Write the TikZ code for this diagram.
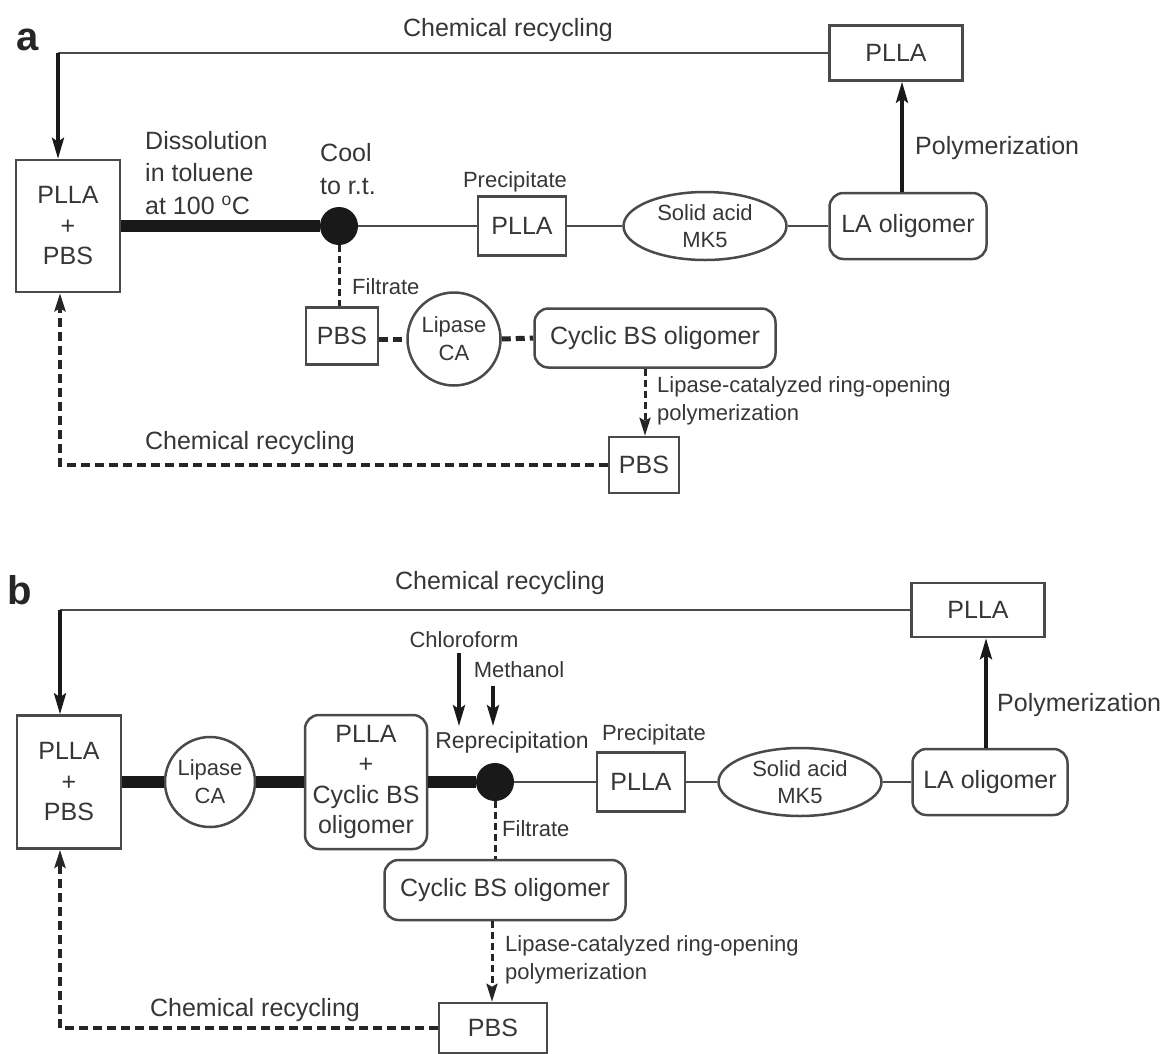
\documentclass[tikz,border=0pt]{standalone}
\usepackage{fontspec}
\setmainfont{Liberation Sans}
\usetikzlibrary{arrows.meta,shapes.geometric,calc}
\definecolor{ink}{HTML}{363636}
\definecolor{ln}{HTML}{4a4a4a}
\begin{document}
\begin{tikzpicture}[x=1pt,y=-1pt,
  every node/.style={text=ink},
  lab/.style={font=\fontsize{25}{32.5}\selectfont, align=center, inner sep=0},
  sm/.style={font=\fontsize{22}{28}\selectfont, align=center, inner sep=0},
  box/.style={draw=ln, line width=2.5, rectangle, inner sep=0, font=\fontsize{25}{30.5}\selectfont, align=center},
  rbox/.style={box, rounded corners=14},
  ell/.style={draw=ln, line width=2.5, ellipse, inner sep=0, minimum width=163, minimum height=68, font=\fontsize{22}{27}\selectfont, align=center},
  cir/.style={draw=ln, line width=2.5, circle, inner sep=0, font=\fontsize{22}{28}\selectfont, align=center},
  dot/.style={circle, fill=black!90, inner sep=0, minimum size=38},
  panel/.style={font=\bfseries\fontsize{40}{40}\selectfont, inner sep=0, text=black!85},
  thinl/.style={draw=ln, line width=2.8},
  thickl/.style={draw=black!90, line width=12},
  arr/.style={draw=black!90, line width=3.5, -{Stealth[length=21pt,width=12pt,inset=4pt]}},
  dsha/.style={draw=black!85, line width=3, dash pattern=on 7pt off 4pt},
  dshb/.style={draw=black!85, line width=5, dash pattern=on 9pt off 5pt},
  darr/.style={draw=black!85, line width=3, dash pattern=on 7pt off 4pt, -{Stealth[length=18pt,width=11pt,inset=3pt,sep=0pt]}},
  dret/.style={draw=black!85, line width=4, dash pattern=on 9pt off 5pt, -{Stealth[length=18pt,width=11pt,inset=3pt]}}
]
\useasboundingbox (0,0) rectangle (1168,1053);

% ---------------- panel a ----------------
\node[panel] (pa) at (28,40) {a};
\node[lab] (reca) at (508,30) {Chemical recycling};
\node[box, minimum width=133, minimum height=55] (pllaT) at (896,53) {PLLA};
\node[box, minimum width=104, minimum height=132] (ab) at (68,226) {PLLA\\+\\PBS};
\node[dot] (c1) at (339,226) {};
\node[lab, anchor=west, align=left] (diss) at (145,173) {Dissolution\\in toluene\\at 100 \textsuperscript{o}C};
\node[lab, anchor=west, align=left] (cool) at (320,169) {Cool\\to r.t.};
\node[box, minimum width=88, minimum height=59] (p1) at (522,226) {PLLA};
\node[sm] (prec1) at (515,182) {Precipitate};
\node[ell] (el1) at (705,226) {Solid acid\\MK5};
\node[rbox, minimum width=157, minimum height=66] (la1) at (908,226) {LA oligomer};
\node[lab, anchor=west] (poly1) at (915,148) {Polymerization};
\node[box, minimum width=72, minimum height=57] (pbs1) at (342,336) {PBS};
\node[sm, anchor=west] (filt1) at (352,287) {Filtrate};
\node[cir, minimum size=93] (lip1) at (454,339) {Lipase\\CA};
\node[rbox, minimum width=241, minimum height=59] (cyc1) at (655,338) {Cyclic BS oligomer};
\node[sm, anchor=west, align=left] (lcr1) at (657,401) {Lipase-catalyzed ring-opening\\polymerization};
\node[box, minimum width=70, minimum height=56] (pbs2) at (644,465) {PBS};
\node[lab] (reca2) at (250,443) {Chemical recycling};

\coordinate (ta) at (58,53);
\draw[thinl] (pllaT.west) -- (ta);
\draw[arr] (ta) -- (ta |- ab.north);
\draw[thickl] (ab.east) -- (c1.west);
\draw[thinl] (c1.east) -- (p1.west);
\draw[thinl] (p1.east) -- (el1.west);
\draw[thinl] (el1.east) -- (la1.west);
\coordinate (pxa) at (902,0);
\draw[arr] (la1.north -| pxa) -- (pllaT.south -| pxa);
\draw[dsha] (c1.south) -- (c1.south |- pbs1.north);
\draw[dshb] (pbs1.east |- lip1.west) -- (lip1.west);
\draw[dshb] (lip1.east) -- (cyc1.west);
\coordinate (dxa) at (645,0);
\draw[darr] (cyc1.south -| dxa) -- (pbs2.north -| dxa);
\coordinate (rxa) at (60,0);
\draw[dret] (pbs2.west) -- (pbs2.west -| rxa) -- (rxa |- ab.south);

% ---------------- panel b ----------------
\node[panel] (pb) at (20,590) {b};
\node[lab] (recb) at (500,583) {Chemical recycling};
\node[box, minimum width=133, minimum height=54] (pllaT2) at (978,610) {PLLA};
\node[box, minimum width=104, minimum height=133] (ab2) at (69,782) {PLLA\\+\\PBS};
\node[cir, minimum size=90] (lip2) at (210,782) {Lipase\\CA};
\node[rbox, minimum width=122, minimum height=134] (mix) at (366,782) {PLLA\\+\\Cyclic BS\\oligomer};
\node[dot] (c2) at (495,782) {};
\node[sm, font=\fontsize{23}{28}\selectfont] (rep) at (512,743) {Reprecipitation};
\node[sm] (chl) at (464,640) {Chloroform};
\node[sm] (meth) at (519,670) {Methanol};
\node[sm] (prec2) at (654,735) {Precipitate};
\node[box, minimum width=88, minimum height=59] (p2) at (641,782) {PLLA};
\node[ell] (el2) at (800,782) {Solid acid\\MK5};
\node[rbox, minimum width=155, minimum height=66] (la2) at (990,782) {LA oligomer};
\node[lab, anchor=west] (poly2) at (997,705) {Polymerization};
\node[sm, anchor=west] (filt2) at (502,829) {Filtrate};
\node[rbox, minimum width=241, minimum height=60] (cyc2) at (505,890) {Cyclic BS oligomer};
\node[sm, anchor=west, align=left] (lcr2) at (505,960) {Lipase-catalyzed ring-opening\\polymerization};
\node[box, minimum width=108, minimum height=50] (pbs3) at (493,1028) {PBS};
\node[lab] (recb2) at (255,1010) {Chemical recycling};

\coordinate (tb) at (60,610);
\draw[thinl] (pllaT2.west) -- (tb);
\draw[arr] (tb) -- (tb |- ab2.north);
\draw[thickl] (ab2.east) -- (lip2.west);
\draw[thickl] (lip2.east) -- (mix.west);
\draw[thickl] (mix.east) -- (c2.west);
\draw[thinl] (c2.east) -- (p2.west);
\draw[thinl] (p2.east) -- (el2.west);
\draw[thinl] (el2.east) -- (la2.west);
\coordinate (pxb) at (986,0);
\draw[arr] (la2.north -| pxb) -- (pllaT2.south -| pxb);
\coordinate (xa) at (459,0);
\coordinate (xb) at (493,0);
\draw[arr] ([yshift=-5]chl.south -| xa) -- ([yshift=6]rep.north -| xa);
\draw[arr] ([yshift=-8]meth.south -| xb) -- ([yshift=6]rep.north -| xb);
\draw[dsha] (c2.south) -- (c2.south |- cyc2.north);
\coordinate (dxb) at (492,0);
\draw[darr] (cyc2.south -| dxb) -- (pbs3.north -| dxb);
\coordinate (rxb) at (60,0);
\draw[dret] (pbs3.west) -- (pbs3.west -| rxb) -- (rxb |- ab2.south);
\end{tikzpicture}
\end{document}
